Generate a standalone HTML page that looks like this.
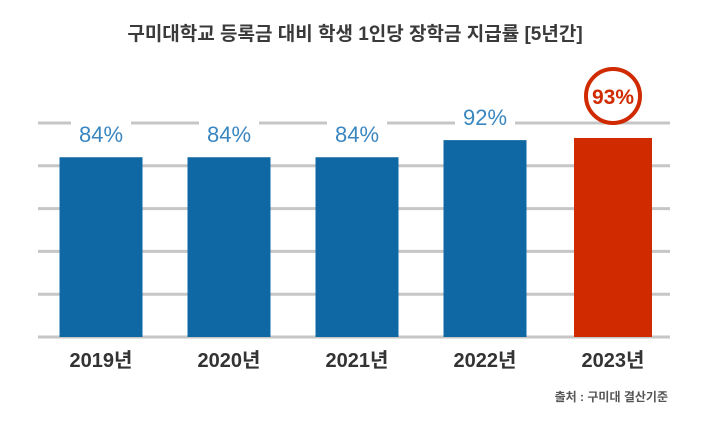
<!DOCTYPE html>
<html><head><meta charset="utf-8"><style>
body{margin:0;background:#fff;width:710px;height:424px;overflow:hidden;font-family:"Liberation Sans","Noto Sans CJK KR",sans-serif}
</style></head><body>
<svg width="710" height="424" id="chart">
<text x="355" y="40" text-anchor="middle" font-size="19" font-weight="bold" fill="#3a3a3a" font-family="Liberation Sans, Noto Sans CJK KR, sans-serif">구미대학교 등록금 대비 학생 1인당 장학금 지급률 [5년간]</text>
<g id="grid"></g><g id="bars"></g><g id="labels"></g>
<text x="668" y="401" text-anchor="end" font-size="12" font-weight="bold" fill="#555" font-family="Liberation Sans, Noto Sans CJK KR, sans-serif">출처 : 구미대 결산기준</text>
</svg>
<script>
const categories=["2019년","2020년","2021년","2022년","2023년"];
const values=[84,84,84,92,93];
const valueLabels=["84%","84%","84%","92%","93%"];
const gridTicks=[0,20,40,60,80,100];
const NS="http://www.w3.org/2000/svg";
const y0=337,k=2.14;
const y=v=>y0-v*k;
const x=i=>101+i*128;
function mk(t,a,p){const e=document.createElementNS(NS,t);for(const n in a)e.setAttribute(n,a[n]);p.appendChild(e);return e;}
const g=document.getElementById('grid'),b=document.getElementById('bars'),l=document.getElementById('labels');
gridTicks.forEach(t=>{const e=mk('line',{x1:38,x2:670,y1:y(t),y2:y(t),stroke:'#c6c6c6','stroke-width':3},g);

});
values.forEach((v,i)=>{
 const last=i===values.length-1;
 const w=last?78:83;
 const r=mk('rect',{x:x(i)-w/2,y:y(v),width:w,height:y0-y(v),fill:last?'#d02a00':'#0f68a3'},b);
 
 
 const c=mk('text',{x:x(i),y:y0+30,'text-anchor':'middle','font-size':20,'font-weight':'bold',fill:'#333'},l);
 c.textContent=categories[i];
 
 
 if(last){
  const ci=mk('circle',{cx:x(i),cy:y(v)-42,r:27,fill:'#fff',stroke:'#d02a00','stroke-width':4},l);
  
  
  const t=mk('text',{x:x(i),y:y(v)-34,'text-anchor':'middle','font-size':21,'font-weight':'bold',fill:'#d02a00'},l);
  t.textContent=valueLabels[i];
  
  
 }else{
  const bg=mk('rect',{x:x(i)-30,y:y(v)-36,width:60,height:28,fill:'#fff'},l);
  
  
  const t=mk('text',{x:x(i),y:y(v)-15,'text-anchor':'middle','font-size':22,fill:'#3a86c0'},l);
  t.textContent=valueLabels[i];
  
  
 }
});
</script>
</body></html>
